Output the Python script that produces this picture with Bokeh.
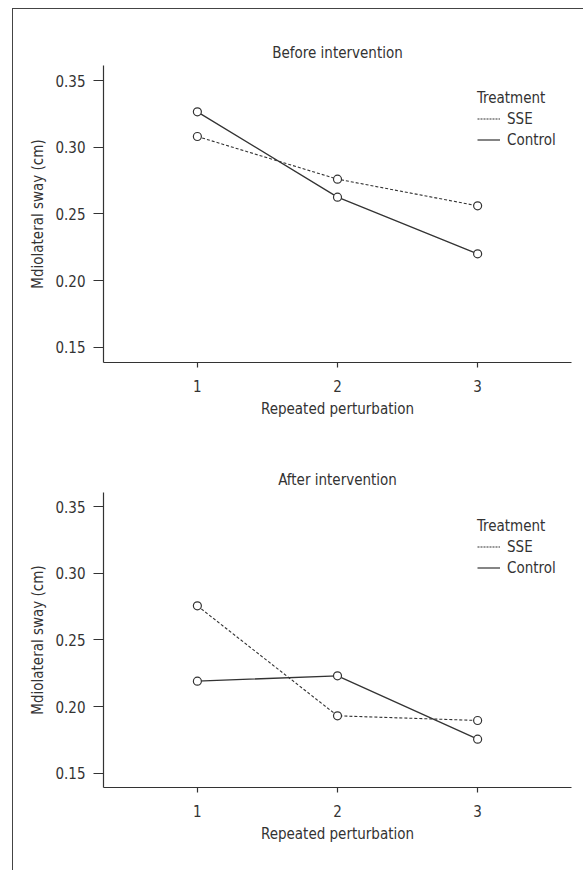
from bokeh.plotting import figure
from bokeh.layouts import column
from bokeh.models import (Range1d, FixedTicker, NumeralTickFormatter, Legend,
                          LegendItem, ColumnDataSource)
from bokeh.embed import file_html
from bokeh.resources import INLINE

# ---- data ----
perturbation = [1, 2, 3]
x_ticks = [1, 2, 3]
y_ticks = [0.15, 0.20, 0.25, 0.30, 0.35]

before_sse = [0.308, 0.276, 0.256]
before_control = [0.3265, 0.2625, 0.220]
after_sse = [0.2755, 0.193, 0.1895]
after_control = [0.219, 0.223, 0.1755]

titles = ["Before intervention", "After intervention"]
x_label = "Repeated perturbation"
y_label = "Mdiolateral sway (cm)"
legend_title = "Treatment"
series_names = ["SSE", "Control"]

FONT = "DejaVu Sans Condensed, Liberation Sans, sans-serif"
INK = "#333333"
FS = "15px"


def make_panel(title, sse, control, height, mb_top, mb_bottom, y_lo, y_hi,
               title_standoff, legend_y):
    p = figure(width=570, height=height, output_backend="svg",
               toolbar_location=None, x_range=Range1d(0.33, 3.67),
               y_range=Range1d(y_lo, y_hi),
               min_border_left=90, min_border_right=12,
               min_border_top=mb_top, min_border_bottom=mb_bottom)
    p.outline_line_color = None
    p.grid.visible = False
    p.background_fill_color = "white"
    p.border_fill_color = "white"
    # a range far away from the data, used only by the legend sample lines
    p.extra_y_ranges = {"legend_only": Range1d(10, 11)}

    p.title.text = title
    p.title.align = "center"
    p.title.text_font = FONT
    p.title.text_font_size = FS
    p.title.text_font_style = "normal"
    p.title.text_color = INK
    p.title.standoff = title_standoff

    for ax in (p.xaxis[0], p.yaxis[0]):
        ax.axis_line_color = INK
        ax.axis_line_width = 1.2
        ax.major_tick_line_color = INK
        ax.major_tick_line_width = 1.2
        ax.minor_tick_line_color = None
        ax.major_tick_in = 0
        ax.major_label_text_font = FONT
        ax.major_label_text_font_size = FS
        ax.major_label_text_color = INK
        ax.axis_label_text_font = FONT
        ax.axis_label_text_font_size = FS
        ax.axis_label_text_font_style = "normal"
        ax.axis_label_text_color = INK

    p.xaxis.ticker = FixedTicker(ticks=x_ticks)
    p.xaxis.major_tick_out = 5
    p.xaxis.major_label_standoff = 12
    p.xaxis.axis_label = x_label
    p.xaxis.axis_label_standoff = 5

    p.yaxis.ticker = FixedTicker(ticks=y_ticks)
    p.yaxis.formatter = NumeralTickFormatter(format="0.00")
    p.yaxis.major_tick_out = 10
    p.yaxis.major_label_standoff = 8
    p.yaxis.axis_label = y_label
    p.yaxis.axis_label_standoff = 5

    src = ColumnDataSource(dict(x=perturbation, sse=sse, control=control))
    p.line("x", "sse", source=src, line_color=INK, line_width=1.1,
           line_dash="3 2")
    p.line("x", "control", source=src, line_color=INK, line_width=1.3)
    for col in ("sse", "control"):
        p.scatter("x", col, source=src, marker="circle", size=8,
                  fill_color="white", line_color=INK, line_width=1.2)

    # legend sample lines (dotted / solid); mapped to an off-screen range
    r_sse = p.line("x", "sse", source=src, y_range_name="legend_only",
                   line_color=INK, line_width=1.2, line_dash="2 1")
    r_ctl = p.line("x", "control", source=src, y_range_name="legend_only",
                   line_color=INK, line_width=1.2)
    legend = Legend(items=[LegendItem(label=series_names[0], renderers=[r_sse]),
                           LegendItem(label=series_names[1], renderers=[r_ctl])],
                    title=legend_title, location=(374, legend_y))
    legend.title_text_font = FONT
    legend.title_text_font_size = FS
    legend.title_text_font_style = "normal"
    legend.title_text_color = INK
    legend.title_standoff = 1
    legend.label_text_font = FONT
    legend.label_text_font_size = FS
    legend.label_text_color = INK
    legend.glyph_width = 23
    legend.glyph_height = 21
    legend.label_standoff = 7
    legend.label_height = 21
    legend.spacing = 0
    legend.padding = 0
    legend.margin = 0
    legend.border_line_color = None
    legend.background_fill_alpha = 0
    p.add_layout(legend, "center")
    return p


p1 = make_panel(titles[0], before_sse, before_control, 420, 56, 67,
                0.1385, 0.36125, 7, 212)
p2 = make_panel(titles[1], after_sse, after_control, 441, 63, 83,
                0.13925, 0.3605, 8, 209)

layout = column(p1, p2, spacing=0,
                styles={"border-left": "1px solid #444444",
                        "border-top": "1px solid #444444",
                        "margin-left": "12px", "margin-top": "8px"})

open("out.html", "w").write(file_html(layout, INLINE))
